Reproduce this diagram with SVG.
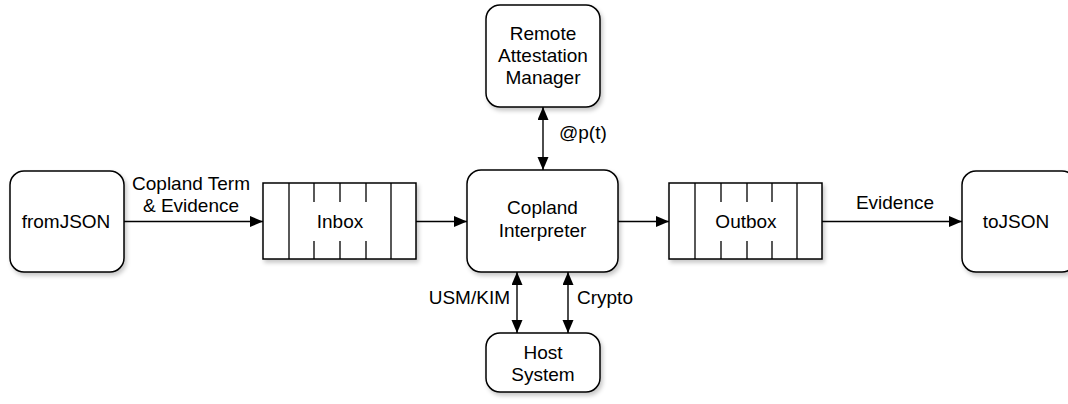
<svg xmlns="http://www.w3.org/2000/svg" width="1068" height="404" viewBox="0 0 1068 404">
<defs>
<filter id="sh" x="-10%" y="-10%" width="130%" height="130%">
<feDropShadow dx="2" dy="3" stdDeviation="2" flood-color="#000" flood-opacity="0.22"/>
</filter>
<marker id="ah" markerUnits="userSpaceOnUse" markerWidth="14" markerHeight="12" refX="13" refY="5.5" orient="auto-start-reverse">
<path d="M0,0 L13,5.5 L0,11 z" fill="#000"/>
</marker>
<style>
.box{fill:#fff;stroke:#000;stroke-width:1.5;filter:url(#sh)}
.q{fill:#fff;stroke:#000;stroke-width:1.5;filter:url(#sh)}
.ql{stroke:#000;stroke-width:1.3;fill:none}
.c{stroke:#000;stroke-width:1.4;fill:none;marker-end:url(#ah)}
.cb{stroke:#000;stroke-width:1.4;fill:none;marker-end:url(#ah);marker-start:url(#ah)}
text{font-family:"Liberation Sans",Arial,Helvetica,sans-serif;font-size:19px;fill:#000}
.m{text-anchor:middle}
</style>
</defs>
<g id="fromJSON">
<rect class="box" x="10" y="171" width="114" height="101" rx="14"/>
<text class="m" x="66" y="228">fromJSON</text>
</g>
<g id="inbox">
<rect class="q" x="263" y="183" width="153" height="76"/>
<path class="ql" d="M289,183V259M391,183V259M314,183V202M340,183V202M366,183V202M314,241V259M340,241V259M366,241V259"/>
<text class="m" x="340" y="228">Inbox</text>
</g>
<g id="interpreter">
<rect class="box" x="467" y="170" width="151" height="102" rx="14"/>
<text class="m" x="542.5" y="214">Copland</text>
<text class="m" x="542.5" y="237">Interpreter</text>
</g>
<g id="ram">
<rect class="box" x="486" y="5" width="114" height="102" rx="14"/>
<text class="m" x="543" y="40">Remote</text>
<text class="m" x="543" y="62">Attestation</text>
<text class="m" x="543" y="84">Manager</text>
</g>
<g id="host">
<rect class="box" x="486" y="333" width="114" height="59" rx="14"/>
<text class="m" x="543" y="359">Host</text>
<text class="m" x="543" y="381">System</text>
</g>
<g id="outbox">
<rect class="q" x="669" y="183" width="153" height="76"/>
<path class="ql" d="M695,183V259M797,183V259M721,183V202M747,183V202M772,183V202M721,241V259M747,241V259M772,241V259"/>
<text class="m" x="746" y="228">Outbox</text>
</g>
<g id="toJSON">
<rect class="box" x="962" y="171" width="114" height="101" rx="14"/>
<text class="m" x="1016" y="228">toJSON</text>
</g>
<g id="connectors">
<path class="c" d="M124,221.5H263"/>
<path class="c" d="M416,221.5H467"/>
<path class="c" d="M618,221.5H669"/>
<path class="c" d="M822,221.5H962"/>
<path class="cb" d="M543,107V170"/>
<path class="cb" d="M517,272V333"/>
<path class="cb" d="M568,272V333"/>
<text class="m" x="191" y="190">Copland Term</text>
<text class="m" x="191" y="212">&amp; Evidence</text>
<text class="m" x="895" y="209">Evidence</text>
<text x="559" y="139">@p(t)</text>
<text x="510" y="304" text-anchor="end">USM/KIM</text>
<text x="577" y="304">Crypto</text>
</g>
</svg>
